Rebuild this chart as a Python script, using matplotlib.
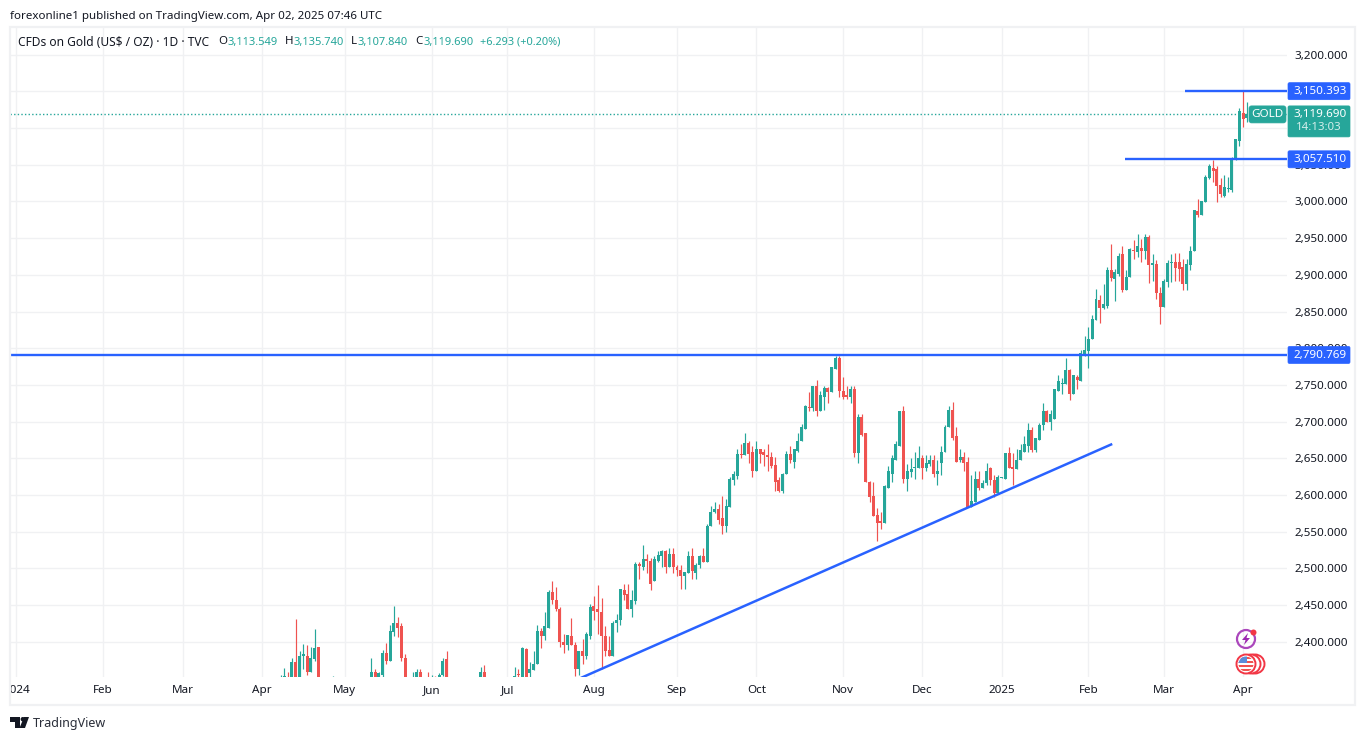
import matplotlib
matplotlib.use("Agg")
import matplotlib.pyplot as plt
from matplotlib.patches import Rectangle, FancyBboxPatch, Circle, Polygon
from matplotlib.transforms import Bbox

plt.rcParams['font.family'] = ['Noto Sans', 'DejaVu Sans']

opens = [
 2340,2345,2352,2345,2372,2340,2381,2381,2359,2376,
 2392,2340,2338,2336,2335,2335,2332,2330,2328,2325,
 2325,2328,2330,2332,2335,2359,2340,2355,2385,2374,
 2412.5,2426,2421,2378,2340,2335,2340,2359,2340,2348,
 2338,2348,2340,2354,2376,2338,2336,2334,2332,2330,
 2332,2335,2337,2340,2359,2338,2335,2332,2330,2332,
 2335,2338,2345,2356,2340,2390,2357,2361,2369,2415,
 2408,2419,2467,2457,2445,2400,2395,2408,2396,2362,
 2386.5,2381,2408,2448,2445,2441,2408,2389,2381,2425,
 2429,2470,2465.5,2445,2455,2506,2501,2512,2510.5,2482,
 2510.5,2516,2524,2502,2520,2502,2498,2490,2493,2516,
 2494,2504,2516,2509,2557,2576,2581,2568,2557,2584,
 2620,2626,2656.4,2655,2671,2658,2632,2662,2658,2655,
 2652,2641,2620,2605,2628,2656,2645.5,2660.5,2673,2690.5,
 2719,2718,2748,2714,2733,2746,2740,2772,2787,2742,
 2735.5,2734,2744,2656.5,2705.5,2684,2618,2598,2572,2564,
 2561,2610,2629,2648,2667,2715,2622,2631,2636,2636,
 2650,2637,2641.5,2648,2629,2643,2658,2692,2716,2680,
 2648,2652,2645.5,2583,2590,2622,2610,2616,2636,2620,
 2603,2622.4,2622,2656.5,2637.4,2635,2647,2659,2667,2689,
 2661,2675.5,2695,2714,2700,2704,2741,2750.5,2750.5,2770,
 2738,2761,2755,2792.4,2796,2813,2839,2866,2855,2858,
 2907,2895,2901,2929,2880,2897,2934.2,2931,2937,2933,
 2952,2913,2915,2875,2856,2890,2915.5,2918,2917,2910.5,
 2887,2914,2932,2987.3,2982,2999,3032,3046,3044,3023,
 3008,3017.3,3016,3056,3083,3121,3113.549]
highs = [
 2354,2364,2359,2377,2431,2386.5,2397,2395,2392.5,2417,
 2392,2349,2347,2345,2352.5,2345,2342,2340,2338,2336,
 2336,2338,2340,2345,2378,2363,2359,2389,2397.5,2422,
 2449,2433,2426,2382.5,2349,2358,2363,2362,2350,2359,
 2354,2352.5,2357,2378,2386.5,2348,2346,2344,2342,2340,
 2342,2345,2348,2365,2367.5,2348,2345,2342,2340,2342,
 2345,2350,2365,2362,2392,2390.6,2372,2386.5,2423,2418,
 2440,2470,2483,2474,2446.5,2411,2408.4,2431.5,2400,2386.5,
 2403,2412.5,2450.6,2461.5,2476.5,2459,2420.6,2407,2427.4,2437,
 2472,2478,2479,2470,2509,2509,2531,2519,2514,2517,
 2524,2525.5,2525.5,2528,2527,2505,2505,2494.2,2523,2528,
 2506.5,2517.4,2528,2560,2585.5,2590,2587,2599,2594,2625,
 2633,2663,2670,2685,2674,2666,2673,2663,2662,2670,
 2658,2652,2624,2630.5,2660.5,2666,2663,2685,2696,2722,
 2740,2748,2757,2742,2748,2746.4,2774,2790,2790,2761,
 2748,2749,2749,2710,2710,2685,2618.3,2618,2581.5,2576,
 2614,2639,2655,2673,2715,2720.5,2641.5,2650,2658,2666,
 2655,2654,2655,2655,2647,2667,2695,2720.5,2726,2693,
 2663,2658,2651,2626.5,2632,2633,2620,2644,2637.4,2626.5,
 2626.5,2623.7,2656.5,2664.6,2656.5,2663,2670,2680,2697.4,2693,
 2677,2697.4,2724.6,2716.4,2716.4,2745,2763,2759,2786,2772,
 2764,2764,2798,2817,2829,2845,2881,2873,2887,2911,
 2942,2908,2930,2940,2906,2936.4,2947,2955,2949,2955,
 2954,2929,2920,2884,2895,2920,2929,2930,2930,2922,
 2922,2940,2989,3004,3000.5,3036,3051,3057,3049,3032,
 3035.5,3033,3060.5,3085.5,3128,3150.4,3135.74]
lows = [
 2335,2340,2340,2340,2335,2335,2362.5,2354,2359,2373,
 2335,2330,2328,2330,2330,2325,2322,2320,2318,2315,
 2315,2318,2322,2325,2330,2330,2335,2351.6,2370,2373,
 2407,2405.6,2374,2335,2330,2330,2335,2335,2330,2335,
 2335,2335,2335,2352.5,2335,2330,2328,2326,2324,2322,
 2325,2328,2330,2335,2335,2330,2328,2325,2322,2325,
 2328,2330,2340,2350,2335,2335,2345,2360.6,2368.8,2390.6,
 2401.5,2419,2450.6,2442,2393,2384,2388,2396,2352.5,2355,
 2369,2376,2403,2430,2410,2363,2381,2380,2381,2413,
 2423,2457,2444,2433,2451,2485,2497,2494,2470,2482,
 2508,2502,2493,2502,2494,2489,2472,2471,2493,2485,
 2485,2500,2509,2509,2557,2575,2560,2546,2550,2584,
 2613,2622,2650,2654,2643,2624,2632,2643,2640,2632,
 2637,2605,2604.6,2603,2628,2643,2637,2659,2673,2690.5,
 2714,2714,2708,2714,2716,2725,2740,2771,2733,2731,
 2731,2725,2652,2643,2680,2617,2590,2570.6,2536.5,2554,
 2561,2610,2618,2648,2667,2616,2605,2625,2621,2636,
 2621,2632,2640,2624,2613,2626.5,2658,2692,2675.5,2645.5,
 2645.5,2633,2583,2583,2590,2607,2610,2614,2614,2596.5,
 2600.6,2622.4,2622,2636,2614,2635,2647,2659,2659,2659,
 2659,2675.5,2689,2700,2689,2703,2741,2738,2750.5,2730,
 2737,2745,2755,2790,2773,2812,2839,2834,2853,2855,
 2892,2864,2899,2876,2879,2897,2921,2924,2917,2922,
 2889,2892,2867,2833,2856,2883,2890,2891,2892,2880,
 2880,2906,2932,2979,2982,2999,3031,3026,2999,3006,
 3006,3013,3013,3056,3076,3101,3107.84]
closes = [
 2345,2352.5,2345,2372,2340,2381,2382.5,2358,2377.5,2391,
 2340,2335,2333,2334,2345,2330,2328,2325,2322,2320,
 2320,2322,2325,2328,2359,2335,2357,2385,2374,2414,
 2425,2419,2377,2340,2335,2345,2359,2340,2335,2340,
 2345,2340,2355,2374,2340,2335,2332,2330,2328,2326,
 2328,2332,2335,2359,2340,2335,2332,2328,2325,2328,
 2332,2335,2352.5,2355,2390.6,2340,2363,2370,2415,2408,
 2421,2468,2456,2444,2399,2395,2408.4,2396,2363,2386.5,
 2381,2410,2446.5,2442,2440,2407,2386.5,2381,2426,2430,
 2471,2464,2445,2456,2506,2503,2513,2510.5,2479,2512,
 2517.4,2524,2502,2520,2501,2497,2490,2494.2,2516,2496,
 2505,2516,2509,2558,2577,2581,2566,2557,2585.5,2621,
 2628,2656.4,2655,2671,2656.4,2632,2662,2656.4,2654,2651,
 2640,2618,2605,2629,2656,2647,2662,2673,2692,2720.5,
 2718,2748,2714,2735.5,2746,2740,2774,2786,2742,2734,
 2734,2744,2656.5,2705.5,2682,2617,2597,2571,2562,2561,
 2611.5,2632,2650,2669,2715,2622,2632,2635,2637.4,2650,
 2636,2643,2648,2629,2632,2659,2693,2716,2678,2645.5,
 2652,2644,2583,2592,2622,2610,2616,2632,2620,2603,
 2624,2623.7,2656.5,2636,2635,2648,2661,2669,2689,2661,
 2677,2695,2714,2700,2710,2744,2755,2753,2770,2738,
 2763,2757,2793,2797,2813,2840,2866.5,2855,2860,2907,
 2895.5,2904,2926,2880,2897,2935,2932,2939,2933,2952,
 2913,2916,2875,2856,2891,2915.5,2917.4,2909,2908,2887,
 2915,2933,2988,2982,3000,3034,3049,3042,3020.5,3010,
 3020,3018.7,3058,3085,3123,3113,3119.69]
assert len(opens) == len(highs) == len(lows) == len(closes) == 257

month_bars = [-70, -47, -26, -5, 17, 40, 60, 83, 105, 126, 149, 170, 191, 214, 234, 255]
month_labels = ['2024', 'Feb', 'Mar', 'Apr', 'May', 'Jun', 'Jul', 'Aug', 'Sep', 'Oct',
                'Nov', 'Dec', '2025', 'Feb', 'Mar', 'Apr']
price_ticks = list(range(2400, 3250, 50))
support_level = 2790.769
level_a = 3057.510
level_b = 3150.393
last_price = 3119.690
trend_bars = [79.8, 220]
trend_prices = [2351, 2668.7]
level_a_start = 223.7
level_b_start = 239.6

GREEN = '#26a69a'
RED = '#ef5350'
BLUE = '#2962ff'
GRID = '#f0f1f3'
INK = '#131722'
W, H = 1364, 740

fig = plt.figure(figsize=(W / 100, H / 100), dpi=100, facecolor='white')
L, R, T, B = 10, 1287, 27, 677
ax = fig.add_axes([L / W, 1 - B / H, (R - L) / W, (B - T) / H])
ax.set_xlim(-71.7, 266.6)
ax.set_ylim(2351.7, 3237.9)
for s in ax.spines.values():
    s.set_visible(False)
ax.set_axisbelow(True)
ax.grid(True, color=GRID, lw=1)

xs = list(range(len(opens)))
cols = [GREEN if c >= o else RED for o, c in zip(opens, closes)]
ax.vlines(xs, lows, highs, colors=cols, lw=0.85, zorder=2)
ax.bar(xs, [max(abs(c - o), 1.3) for o, c in zip(opens, closes)],
       bottom=[min(o, c) for o, c in zip(opens, closes)],
       width=0.79, color=cols, linewidth=0, zorder=3)

ax.axhline(last_price, color=GREEN, lw=1, ls=(0, (1, 1.6)), zorder=2)
ax.axhline(support_level, color=BLUE, lw=1.7, zorder=4)
ax.hlines(level_a, level_a_start, ax.get_xlim()[1], color=BLUE, lw=1.7, zorder=4)
ax.hlines(level_b, level_b_start, ax.get_xlim()[1], color=BLUE, lw=1.7, zorder=4)
ax.plot(trend_bars, trend_prices, color=BLUE, lw=1.8, zorder=4)

ax.set_xticks(month_bars)
ax.set_xticklabels(month_labels)
ax.set_yticks(price_ticks)
ax.set_yticklabels([f'{p:,.3f}' for p in price_ticks])
ax.yaxis.tick_right()
ax.tick_params(axis='both', length=0, labelsize=8.4, labelcolor=INK)
ax.tick_params(axis='x', pad=6)
ax.tick_params(axis='y', pad=5.5)
for lab in ax.get_xticklabels():
    if lab.get_text() in ('2024', '2025'):
        lab.set_fontweight('bold')
    lab.set_clip_on(True)
    lab.set_clip_box(Bbox([[L, 0], [W, H]]))

# overlay in picture pixels: price labels, legend, icons, footer
ov = fig.add_axes([0, 0, 1, 1], zorder=5)
ov.set_xlim(0, W)
ov.set_ylim(H, 0)
ov.axis('off')
ov.patch.set_alpha(0)


def py(price):
    return T + (B - T) * (ax.get_ylim()[1] - price) / (ax.get_ylim()[1] - ax.get_ylim()[0])


ov.add_patch(Rectangle((10, 27), 1345, 678, fill=False, ec=GRID, lw=1.6))

ov.text(10, 16, 'forexonline1 published on TradingView.com, Apr 02, 2025 07:46 UTC',
        fontsize=8.3, color=INK, va='center')
ov.text(18, 42, 'CFDs on Gold (US$ / OZ) · 1D · TVC', fontsize=8.6, color=INK, va='center')
for xk, k, xv, v in [(218, 'O', 228, '3,113.549'), (285, 'H', 294, '3,135.740'),
                     (351, 'L', 357, '3,107.840'), (415, 'C', 423, '3,119.690')]:
    ov.text(xk, 42, k, fontsize=8.3, color=INK, va='center')
    ov.text(xv, 42, v, fontsize=8.0, color=GREEN, va='center')
ov.text(480, 42, '+6.293 (+0.20%)', fontsize=7.9, color=GREEN, va='center')


def price_box(price, text, color):
    y = py(price)
    ov.add_patch(FancyBboxPatch((1288, y - 8.5), 62, 17, boxstyle='round,pad=0,rounding_size=1.5',
                                fc=color, ec=color, lw=0.5))
    ov.text(1320, y + 0.3, text, color='white', fontsize=8.4, ha='center', va='center')


price_box(level_b, f'{level_b:,.3f}', BLUE)
price_box(level_a, f'{level_a:,.3f}', BLUE)
price_box(support_level, f'{support_level:,.3f}', BLUE)

y0 = py(last_price) + 0.7
ov.add_patch(FancyBboxPatch((1288, y0 - 8.5), 62, 31, boxstyle='round,pad=0,rounding_size=1.5',
                            fc=GREEN, ec=GREEN, lw=0.5))
ov.add_patch(FancyBboxPatch((1249, y0 - 8.5), 37, 17, boxstyle='round,pad=0,rounding_size=2.5',
                            fc=GREEN, ec=GREEN, lw=0.5))
ov.text(1267.5, y0 + 0.3, 'GOLD', color='white', fontsize=8.4, ha='center', va='center')
ov.text(1320, y0 + 0.3, f'{last_price:,.3f}', color='white', fontsize=8.4, ha='center', va='center')
ov.text(1318.5, y0 + 13.5, '14:13:03', color='#d4eeeb', fontsize=8.2, ha='center', va='center')

# event icons
ov.add_patch(Circle((1246, 639), 9, fill=False, ec='#ab47bc', lw=1.6))
ov.add_patch(Polygon([(1248, 633), (1242, 640), (1245.5, 640), (1244, 645), (1250, 638), (1246.5, 638)],
                     fc='#9c27b0', ec='none'))
ov.add_patch(Circle((1253.5, 632.5), 3, fc='#f23645', ec='none'))
for cx in (1255, 1251):
    ov.add_patch(Circle((cx, 664), 9.5, fc='white', ec='#f23645', lw=1.4))
ov.add_patch(Circle((1246, 664), 9.5, fc='white', ec='#f23645', lw=1.4))
flag = Circle((1246, 664), 7.5, fc='white', ec='none')
ov.add_patch(flag)
for sy in (657, 661, 665, 669):
    st = Rectangle((1238, sy), 17, 2, fc='#ef5350', ec='none')
    ov.add_patch(st)
    st.set_clip_path(flag)
canton = Rectangle((1238, 656), 9, 7, fc='#5b8dd9', ec='none')
ov.add_patch(canton)
canton.set_clip_path(flag)

# footer logo
ov.add_patch(Polygon([(10, 717), (20, 717), (20, 728), (14.5, 728), (14.5, 721.5), (10, 721.5)], fc=INK, ec='none'))
ov.add_patch(Circle((22.8, 719.2), 2.2, fc=INK, ec='none'))
ov.add_patch(Polygon([(24, 717), (29, 717), (25, 728), (19.5, 728)], fc=INK, ec='none'))
ov.text(33, 723, 'TradingView', fontsize=9.0, color='#2a2e39', va='center')

fig.savefig('out.png', dpi=100, facecolor='white')
